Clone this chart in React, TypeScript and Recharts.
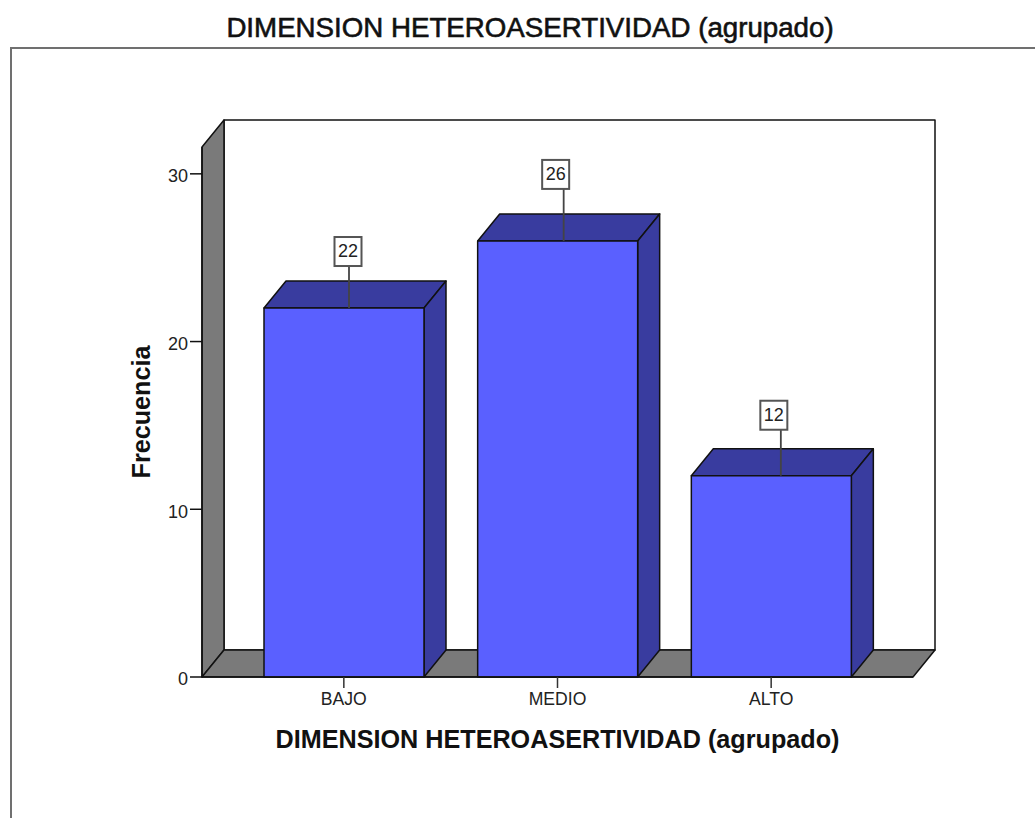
import React from "react";
import { BarChart, Bar, XAxis, YAxis, ReferenceArea, LabelList } from "recharts";

const categories = ["BAJO", "MEDIO", "ALTO"];
const frequencies = [22, 26, 12];
const yTicks = [0, 10, 20, 30];
const yMax = 31.6;
const chartTitle = "DIMENSION HETEROASERTIVIDAD (agrupado)";
const xTitle = "DIMENSION HETEROASERTIVIDAD (agrupado)";
const yTitle = "Frecuencia";

// leader-line placement for each value label (styling, not data)
const leaderDx = [5, 6, 9.5];
const leaderLength = [42, 52, 46];
const boxDx = [-1, -8, -7];

const rows = categories.map((name, i) => ({ name, value: frequencies[i], idx: i }));

const DEPTH_X = 22;
const DEPTH_Y = 27;
const PAD_L = 35;
const PAD_R = 35;
const FONT = "'Liberation Sans', Arial, sans-serif";
const FRONT = "#5a60ff";
const DARK = "#393c9f";
const GREY = "#7a7a7a";
const INK = "#111";

const Backdrop = (p: any) => {
  const { y, height } = p;
  const x = p.x - PAD_L;
  const width = p.width + PAD_L + PAD_R;
  const b = y + height;
  const r = x + width;
  return (
    <g stroke={INK} strokeWidth={1.5} strokeLinejoin="round">
      <rect x={x + DEPTH_X} y={y - DEPTH_Y} width={width} height={height} fill="#fff" />
      <polygon
        points={`${x},${y} ${x + DEPTH_X},${y - DEPTH_Y} ${x + DEPTH_X},${b - DEPTH_Y} ${x},${b}`}
        fill={GREY}
      />
      <polygon
        points={`${x},${b} ${x + DEPTH_X},${b - DEPTH_Y} ${r + DEPTH_X},${b - DEPTH_Y} ${r},${b}`}
        fill={GREY}
      />
    </g>
  );
};

const Bar3D = (p: any) => {
  const { x, y, width, height } = p;
  const r = x + width;
  const b = y + height;
  return (
    <g stroke={INK} strokeWidth={1.5} strokeLinejoin="round">
      <polygon
        points={`${x},${y} ${x + DEPTH_X},${y - DEPTH_Y} ${r + DEPTH_X},${y - DEPTH_Y} ${r},${y}`}
        fill={DARK}
      />
      <polygon
        points={`${r},${y} ${r + DEPTH_X},${y - DEPTH_Y} ${r + DEPTH_X},${b - DEPTH_Y} ${r},${b}`}
        fill={DARK}
      />
      <rect x={x} y={y} width={width} height={height} fill={FRONT} />
    </g>
  );
};

const ValueTag = (p: any) => {
  const { x, y, width, value, index } = p;
  const lx = x + width / 2 + leaderDx[index];
  const boxBottom = y - leaderLength[index];
  const cx = lx + boxDx[index];
  return (
    <g>
      <line x1={lx} y1={y} x2={lx} y2={boxBottom} stroke="#444" strokeWidth={1.8} />
      <rect
        x={cx - 13.5}
        y={boxBottom - 29}
        width={27}
        height={29}
        fill="#fff"
        stroke="#555"
        strokeWidth={2}
      />
      <text
        x={cx}
        y={boxBottom - 15}
        textAnchor="middle"
        dominantBaseline="central"
        fontFamily={FONT}
        fontSize={18}
        fill="#222"
      >
        {value}
      </text>
    </g>
  );
};

export default function App() {
  return (
    <div style={{ position: "absolute", left: 0, top: 0, width: 1035, height: 818, background: "#fff", overflow: "hidden" }}>
      <div
        style={{
          position: "absolute",
          left: 0,
          width: 1035,
          top: 12,
          textAlign: "center",
          paddingLeft: 25,
          boxSizing: "border-box",
          fontFamily: FONT,
          fontSize: 27.7,
          lineHeight: "32px",
          color: "#111",
          whiteSpace: "nowrap",
          WebkitTextStroke: "0.6px #111",
        }}
      >
        {chartTitle}
      </div>
      <div
        style={{
          position: "absolute",
          left: 10,
          top: 47,
          width: 1030,
          height: 780,
          borderLeft: "2px solid #707070",
          borderTop: "2px solid #707070",
        }}
      />
      <div style={{ position: "absolute", left: 0, top: 0 }}>
        <BarChart
          width={1035}
          height={818}
          data={rows}
          margin={{ top: 147, right: 122, bottom: 80, left: 102 }}
          barSize={160}
        >
          <ReferenceArea y1={0} y2={yMax} shape={<Backdrop />} ifOverflow="visible" />
          <XAxis
            dataKey="name"
            height={61}
            padding={{ left: PAD_L, right: PAD_R }}
            axisLine={{ stroke: INK, strokeWidth: 1.5 }}
            tickLine={{ stroke: "#333", strokeWidth: 1.5 }}
            tickSize={11}
            tickMargin={5}
            tick={{ fontFamily: FONT, fontSize: 17.6, fill: "#222" }}
            label={{
              value: xTitle,
              position: "insideBottom",
              offset: -10,
              fontFamily: FONT,
              fontSize: 25.2,
              fontWeight: 700,
              fill: "#111",
            }}
          />
          <YAxis
            width={100}
            domain={[0, yMax]}
            ticks={yTicks}
            interval={0}
            axisLine={{ stroke: INK, strokeWidth: 1.5 }}
            tickLine={{ stroke: INK, strokeWidth: 1.5 }}
            tickSize={12}
            tickMargin={2}
            tick={{ fontFamily: FONT, fontSize: 18, fill: "#222", dy: 2 }}
            label={{
              value: yTitle,
              angle: -90,
              position: "insideLeft",
              offset: 39,
              style: { textAnchor: "middle" },
              fontFamily: FONT,
              fontSize: 25.2,
              fontWeight: 700,
              fill: "#111",
            }}
          />
          <Bar dataKey="value" shape={<Bar3D />} isAnimationActive={false}>
            <LabelList dataKey="value" content={<ValueTag />} />
          </Bar>
        </BarChart>
      </div>
    </div>
  );
}
